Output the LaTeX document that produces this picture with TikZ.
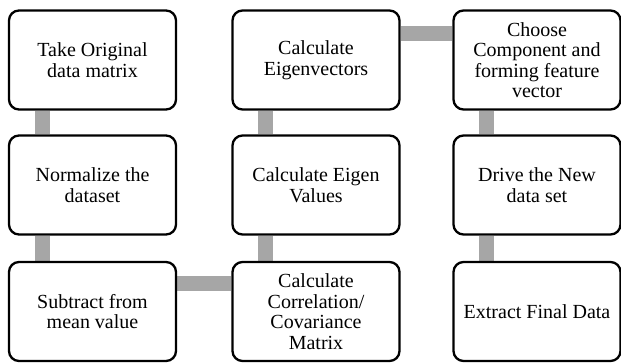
\documentclass[tikz,border=0pt]{standalone}
\usepackage{fontspec}
\setmainfont{Liberation Serif}
\usetikzlibrary{backgrounds}
\definecolor{bargray}{RGB}{166,166,166}
\tikzset{
	stepbox/.style={
			draw, line width=2.3pt, rounded corners=10pt, fill=white,
			minimum width=167pt, minimum height=99pt, align=center, inner sep=2pt,
			font=\fontsize{20}{20.5}\selectfont
		},
	bar/.style={draw=bargray, line width=15pt}
}

\begin{document}
\begin{tikzpicture}[x=1pt,y=-1pt]
		\useasboundingbox (0,0) rectangle (621,363);
		% Draw the steps
		\node[stepbox] (take) at (92.5,60) {Take Original\\data matrix};
		\node[stepbox] (norm) at (92.5,185) {Normalize the\\dataset};
		\node[stepbox] (subtract) at (92.5,311.5) {Subtract from\\mean value};
		\node[stepbox] (covar) at (316,311.5) {Calculate\\Correlation/\\Covariance\\Matrix};
		\node[stepbox] (eigval) at (316,185) {Calculate Eigen\\Values};
		\node[stepbox] (eigvec) at (316,60) {Calculate\\Eigenvectors};
		\node[stepbox] (choose) at (537,60) {Choose\\Component and\\forming feature\\vector};
		\node[stepbox] (drive) at (537,185) {Drive the New\\data set};
		\node[stepbox] (extract) at (537,311.5) {Extract Final Data};
		% Draw the bars behind the steps
		\begin{pgfonlayer}{background}
			\draw[bar] ([xshift=34.5pt]take.south west) -- ([xshift=34.5pt]norm.north west);
			\draw[bar] ([xshift=34.5pt]norm.south west) -- ([xshift=34.5pt]subtract.north west);
			\draw[bar] ([yshift=-23pt]subtract.north east) -- ([yshift=-23pt]covar.north west);
			\draw[bar] ([xshift=34.5pt]covar.north west) -- ([xshift=34.5pt]eigval.south west);
			\draw[bar] ([xshift=34.5pt]eigval.north west) -- ([xshift=34.5pt]eigvec.south west);
			\draw[bar] ([yshift=-24pt]eigvec.north east) -- ([yshift=-24pt]choose.north west);
			\draw[bar] ([xshift=34.5pt]choose.south west) -- ([xshift=34.5pt]drive.north west);
			\draw[bar] ([xshift=34.5pt]drive.south west) -- ([xshift=34.5pt]extract.north west);
		\end{pgfonlayer}
	\end{tikzpicture}
\end{document}
